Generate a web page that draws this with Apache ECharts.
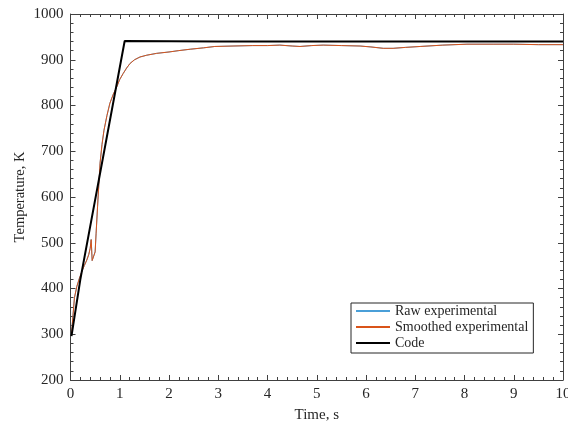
<!DOCTYPE html>
<html>
<head>
<meta charset="utf-8">
<script src="https://cdn.jsdelivr.net/npm/echarts@6/dist/echarts.min.js"></script>
<style>
  html, body { margin: 0; padding: 0; background: #fff; }
  #chart { width: 568px; height: 425px; }
</style>
</head>
<body>
<div id="chart"></div>
<script>
// Furnace temperature history: experimental trace vs. model prediction
const smoothTime = [0.02, 0.05, 0.08, 0.13, 0.18, 0.23, 0.28, 0.33, 0.37, 0.40, 0.42, 0.44, 0.46, 0.48, 0.50, 0.52, 0.55, 0.60, 0.64, 0.68, 0.74, 0.80, 0.87, 0.94, 1.00, 1.07, 1.14, 1.21, 1.30, 1.41, 1.55, 1.75, 2.00, 2.20, 2.43, 2.70, 2.93, 3.30, 3.70, 4.00, 4.25, 4.50, 4.66, 4.90, 5.13, 5.50, 5.88, 6.10, 6.35, 6.55, 6.80, 7.10, 7.56, 8.05, 8.58, 9.00, 9.50, 10.00];
const smoothTemp = [300, 340, 380, 405, 422, 437, 450, 462, 474, 488, 507, 461, 459, 460, 480, 521, 580, 674, 715, 746, 778, 805, 825, 841, 857, 870, 882, 892, 900, 906, 910, 914, 917, 920, 923, 926, 929, 930, 931, 931, 932, 930, 929, 931, 932, 931, 930, 928, 925, 925, 927, 929, 932, 934, 934, 934, 933, 933];
const rawTime = smoothTime.slice();
const rawTemp = smoothTemp.slice();
const codeTime = [0.02, 0.20, 1.10, 3.00, 6.00, 10.00];
const codeTemp = [296, 420, 941, 940, 940, 940];

const xTicks = { min: 0, max: 10, step: 1 };
const yTicks = { min: 200, max: 1000, step: 100 };

const pairs = (xs, ys) => xs.map((x, i) => [x, ys[i]]);

const FONT = 'Liberation Serif';
const AXIS_COLOR = '#404040';
const TEXT_COLOR = '#262626';

function boxAxis(kind, pos, showLabels, extra) {
  const t = kind === 'x' ? xTicks : yTicks;
  return Object.assign({
    type: 'value',
    position: pos,
    min: t.min,
    max: t.max,
    interval: t.step,
    axisLine: { show: true, onZero: false, lineStyle: { color: AXIS_COLOR, width: 1 } },
    axisTick: { show: true, inside: true, length: 5, lineStyle: { color: AXIS_COLOR } },
    minorTick: { show: true, splitNumber: 5, length: 3, lineStyle: { color: AXIS_COLOR } },
    splitLine: { show: false },
    axisLabel: {
      show: showLabels,
      color: TEXT_COLOR,
      fontFamily: FONT,
      fontSize: 15,
      margin: 7,
      showMaxLabel: true,
      showMinLabel: true,
      formatter: (v) => String(v)
    }
  }, extra || {});
}

const chart = echarts.init(document.getElementById('chart'), null, { renderer: 'canvas' });
chart.setOption({
  animation: false,
  backgroundColor: '#ffffff',
  grid: { left: 70.5, right: 5, top: 14, bottom: 45, containLabel: false, outerBoundsMode: 'none' },
  xAxis: [
    boxAxis('x', 'bottom', true, {
      name: 'Time, s',
      nameLocation: 'middle',
      nameGap: 28,
      nameMoveOverlap: false,
      nameTextStyle: { color: TEXT_COLOR, fontFamily: FONT, fontSize: 15 }
    }),
    boxAxis('x', 'top', false)
  ],
  yAxis: [
    boxAxis('y', 'left', true, {
      name: 'Temperature, K',
      nameLocation: 'middle',
      nameGap: 43,
      nameRotate: 90,
      nameMoveOverlap: false,
      nameTextStyle: { color: TEXT_COLOR, fontFamily: FONT, fontSize: 14.5 }
    }),
    boxAxis('y', 'right', false)
  ],
  legend: {
    orient: 'vertical',
    left: 351,
    top: 303,
    width: 182,
    padding: [1, 5, 3, 4],
    itemGap: 2,
    itemWidth: 34,
    itemHeight: 14,
    backgroundColor: '#ffffff',
    borderColor: '#262626',
    borderWidth: 1,
    borderRadius: 0,
    itemStyle: { opacity: 0 },
    textStyle: { color: TEXT_COLOR, fontFamily: FONT, fontSize: 14, padding: [0, 0, 0, 0] },
    data: ['Raw experimental', 'Smoothed experimental', 'Code']
  },
  series: [
    {
      name: 'Raw experimental',
      type: 'line',
      data: pairs(rawTime, rawTemp),
      showSymbol: false,
      symbol: 'none',
      lineStyle: { color: '#4A9FD8', width: 1 },
      itemStyle: { color: '#4A9FD8' },
      z: 2
    },
    {
      name: 'Smoothed experimental',
      type: 'line',
      data: pairs(smoothTime, smoothTemp),
      showSymbol: false,
      symbol: 'none',
      lineStyle: { color: '#D95319', width: 1 },
      itemStyle: { color: '#D95319' },
      z: 3
    },
    {
      name: 'Code',
      type: 'line',
      data: pairs(codeTime, codeTemp),
      showSymbol: false,
      symbol: 'none',
      lineStyle: { color: '#000000', width: 2 },
      itemStyle: { color: '#000000' },
      z: 4
    }
  ]
});
</script>
</body>
</html>
